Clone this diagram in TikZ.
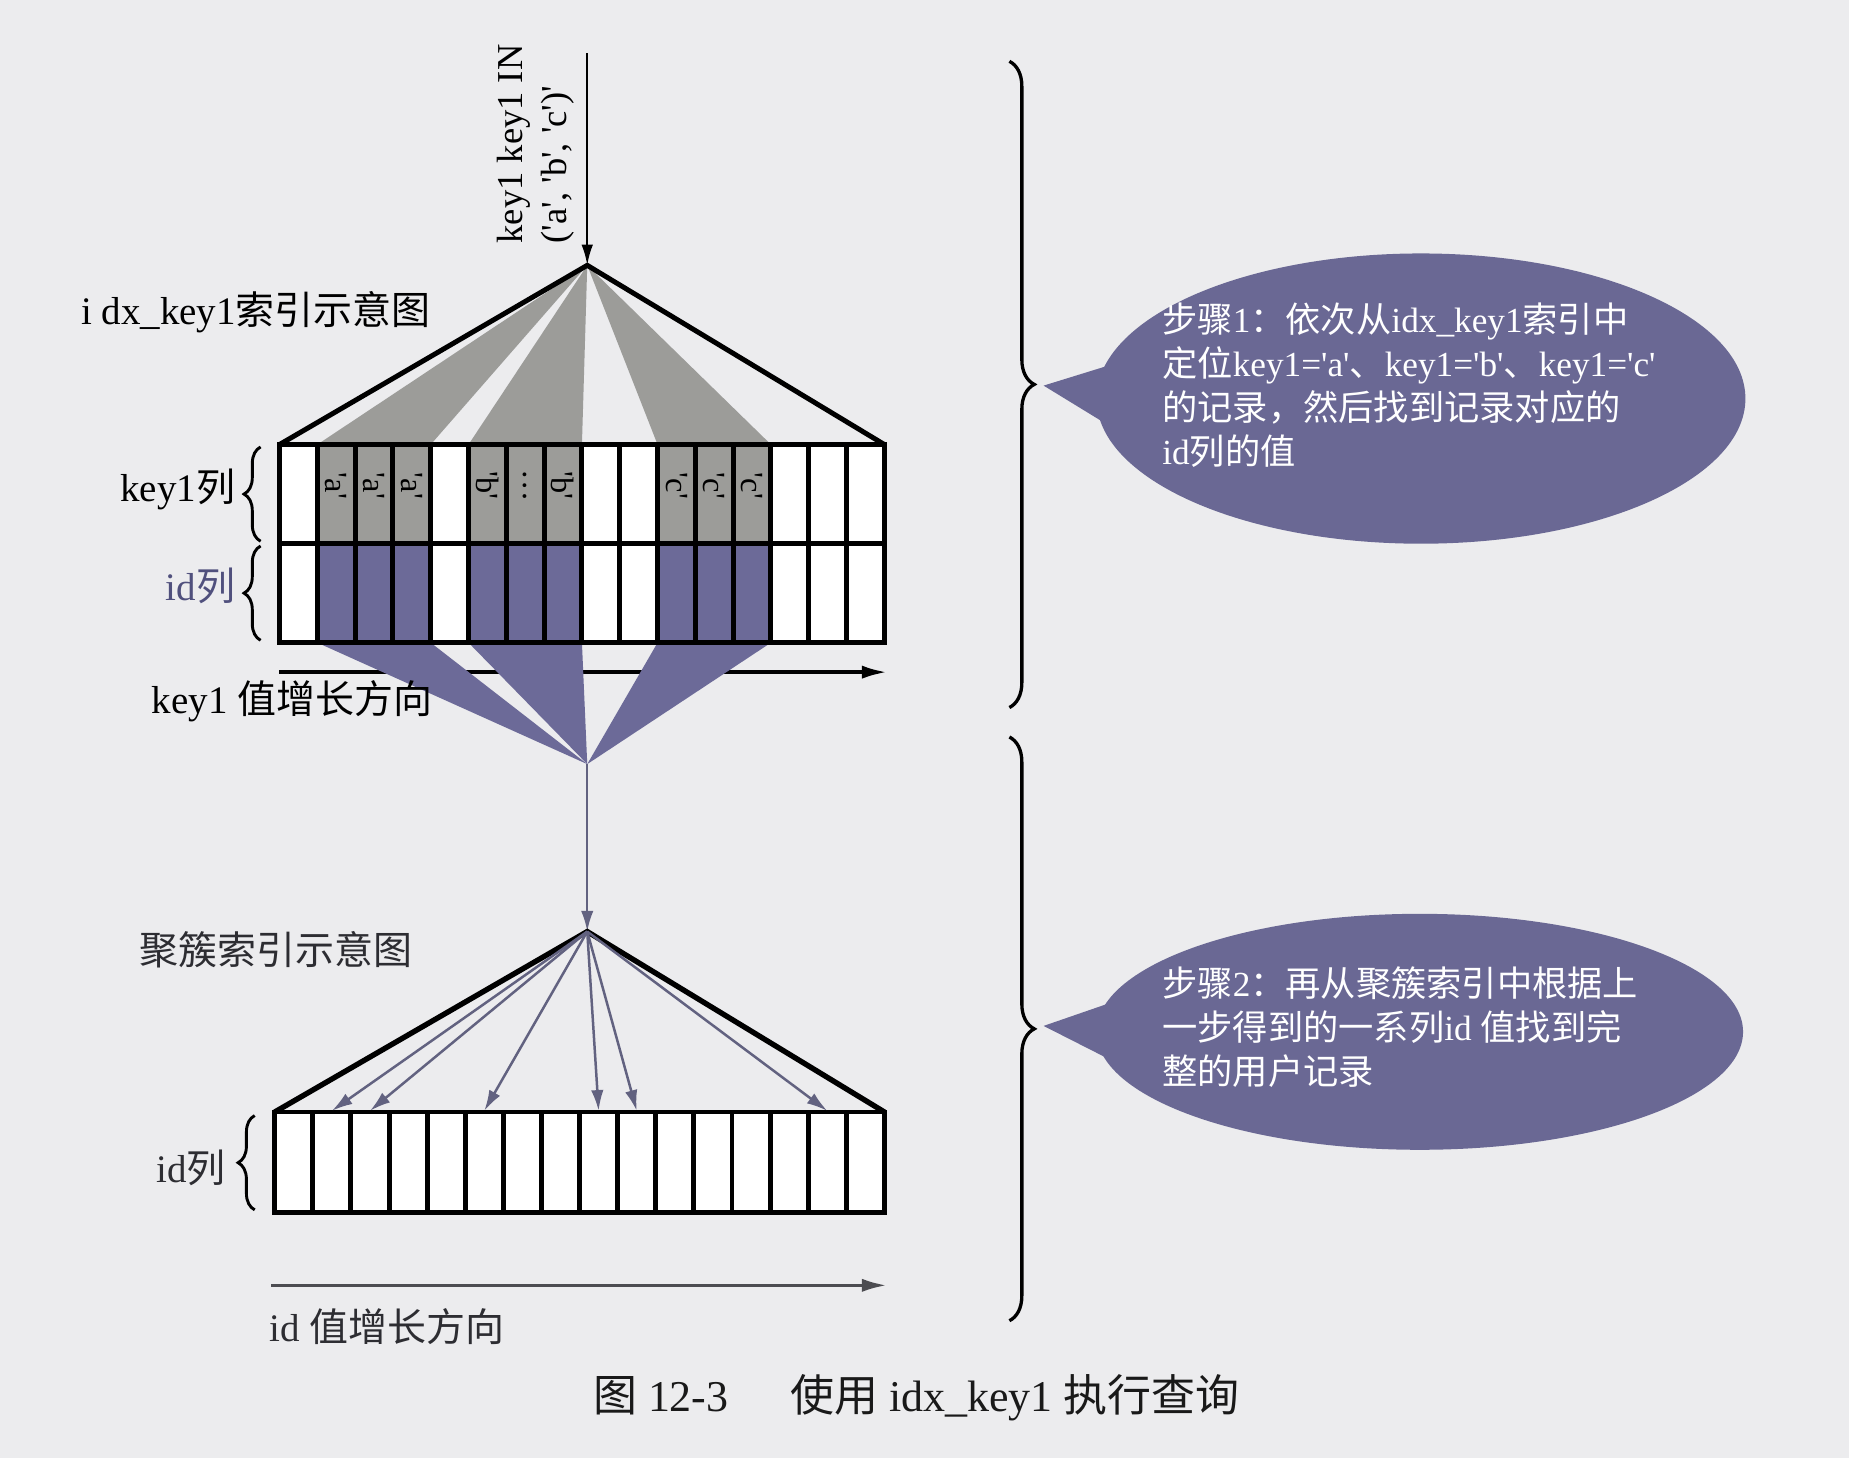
\documentclass[tikz,border=0pt]{standalone}
\usepackage{fontspec}
\setmainfont{Liberation Serif}
\newfontfamily\cjk{Noto Sans CJK SC}
\newfontfamily\qf{Liberation Serif}
\usetikzlibrary{arrows.meta,decorations.pathreplacing,shapes.geometric,calc}
\newcommand\zhs[1]{{\cjk #1}}
\newcommand\sq{{\qf'}}
\definecolor{bgc}{RGB}{236,236,238}
\definecolor{kgray}{RGB}{156,156,153}
\definecolor{kpurp}{RGB}{108,106,152}
\definecolor{ellc}{RGB}{106,104,148}
\definecolor{arrc}{RGB}{98,98,128}
\definecolor{idc}{RGB}{80,80,125}
\definecolor{dark}{RGB}{45,45,50}
\begin{document}
\begin{tikzpicture}[x=0.01cm,y=-0.01cm,
  tbl/.style={line width=1.2pt,black},
  lbl/.style={font=\fontsize{9.4}{11}\selectfont,inner sep=0pt},
  celltxt/.style={font=\fontsize{7.8}{9}\selectfont,rotate=-90,inner sep=0pt},
  brc/.style={decorate,line width=0.7pt},
  ell/.style={ellipse,fill=ellc,inner sep=0pt},
  etxt/.style={font=\fontsize{8.5}{10.6}\selectfont,text=white,align=left,inner sep=0pt},
  garrow/.style={line width=0.6pt,arrc,-{Latex[length=5pt,width=3pt]}},
]
\fill[bgc] (0,0) rectangle (1568,1236);
\useasboundingbox (0,0) rectangle (1568,1236);

% ---------- coordinates
\coordinate (top) at (498,45);
\coordinate (A1) at (498,225);
\coordinate (A2) at (498,648);
\coordinate (A3) at (498,790);

% ---------- upper index (idx_key1)
\fill[kgray] (A1) -- (269.06,377) -- (365.25,377) -- cycle;
\fill[kgray] (A1) -- (397.31,377) -- (493.5,377) -- cycle;
\fill[kgray] (A1) -- (557.63,377) -- (653.81,377) -- cycle;
\draw[tbl] (237,377) -- (A1) -- (750,377);

\coordinate (k1s) at (237,570);
\coordinate (k1e) at (752,570);
\draw[line width=0.8pt,black,-{Latex[length=6pt,width=3.2pt]}] (k1s) -- (k1e);

\fill[kpurp] (A2) -- (269.06,545) -- (365.25,545) -- cycle;
\fill[kpurp] (A2) -- (397.31,545) -- (493.5,545) -- cycle;
\fill[kpurp] (A2) -- (557.63,545) -- (653.81,545) -- cycle;

\fill[white] (237,377) rectangle (750,545);
\foreach \k in {1,2,3,5,6,7,10,11,12}{
  \fill[kgray] ({237+\k*32.0625},377) rectangle ({237+(\k+1)*32.0625},461);
  \fill[kpurp] ({237+\k*32.0625},461) rectangle ({237+(\k+1)*32.0625},545);
}
\draw[tbl] (237,377) rectangle (750,545);
\draw[tbl] (237,461) -- (750,461);
\foreach \k in {1,...,15}{
  \draw[tbl] ({237+\k*32.0625},377) -- ({237+\k*32.0625},545);
}
\foreach \k/\t [count=\i] in {1/\sq a\sq,2/\sq a\sq,3/\sq a\sq,5/\sq b\sq,6/\ldots,7/\sq b\sq,10/\sq c\sq,11/\sq c\sq,12/\sq c\sq}{
  \node[celltxt] (cell\i) at ({237+(\k+0.5)*32.0625},412) {\t};
}

\draw[line width=0.6pt,black,-{Latex[length=5pt,width=2.8pt]}] (top) -- (A1);
\node[rotate=90,anchor=west,align=left,inner sep=0pt,
      font=\fontsize{8.8}{10.6}\selectfont] (qlbl) at (454,207)
      {key1 key1 IN\\(\sq a\sq, \sq b\sq, \sq c\sq)\sq};

\node[lbl,anchor=west] (t1) at (68,265) {i dx\_key1\zhs{索引示意图}};
\node[lbl,anchor=east] (k1l) at (200,415) {key1\zhs{列}};
\node[lbl,anchor=east,text=idc] (idl) at (200,497) {id\zhs{列}};
\node[lbl,anchor=west] (t2) at (128,595) {key1 \zhs{值增长方向}};
\draw[brc,decoration={brace,amplitude=4pt}] (221,459) -- (221,379);
\draw[brc,decoration={brace,amplitude=4pt}] (221,543) -- (221,463);

\draw[garrow] (A2) -- (A3);

% ---------- lower clustered index
\node[lbl,anchor=west,text=dark] (t3) at (118,805) {\zhs{聚簇索引示意图}};
\draw[tbl,line width=1.3pt] (233,943) -- (A3) -- (750,943);
\fill[white] (233,943) rectangle (750,1028);
\draw[tbl] (233,943) rectangle (750,1028);
\foreach \k in {1,...,15}{
  \draw[tbl] ({233+\k*32.3125},943) -- ({233+\k*32.3125},1028);
}
\foreach \k in {1,2,5,8,9,14}{
  \coordinate (c\k) at ({233+(\k+0.5)*32.3125},942);
  \draw[garrow] (A3) -- (c\k);
}
\node[lbl,anchor=east,text=dark] (idl2) at (192,990) {id\zhs{列}};
\draw[brc,decoration={brace,amplitude=4pt}] (216,1026) -- (216,946);

\coordinate (ids) at (230,1090);
\coordinate (ide) at (752,1090);
\draw[line width=0.8pt,dark!85,-{Latex[length=6pt,width=3.2pt]}] (ids) -- (ide);
\node[lbl,anchor=west,text=dark] (t4) at (228,1125) {id \zhs{值增长方向}};

% ---------- right braces
\draw[brc,line width=0.8pt,decoration={brace,amplitude=6pt}] (856,52) -- (856,600);
\draw[brc,line width=0.8pt,decoration={brace,amplitude=6pt}] (856,625) -- (856,1120);

% ---------- callouts
\node[ell,minimum width=5.5cm,minimum height=2.46cm] (e1) at (1205,338) {};
\coordinate (tip1) at (885,327);
\coordinate (j1a) at (940,310);
\coordinate (j1b) at (952,368);
\fill[ellc] (tip1) -- (j1a) -- (e1.center) -- (j1b) -- cycle;
\node[etxt,anchor=west] (e1t) at (985,327)
  {\zhs{步骤}1\zhs{：依次从}idx\_key1\zhs{索引中}\\
   \zhs{定位}key1=\sq a\sq\zhs{、}key1=\sq b\sq\zhs{、}key1=\sq c\sq\\
   \zhs{的记录，然后找到记录对应的}\\
   id\zhs{列的值}};

\node[ell,minimum width=5.48cm,minimum height=2.0cm] (e2) at (1204,875) {};
\coordinate (tip2) at (885,870);
\coordinate (j2a) at (940,851);
\coordinate (j2b) at (954,905);
\fill[ellc] (tip2) -- (j2a) -- (e2.center) -- (j2b) -- cycle;
\node[etxt,anchor=west] (e2t) at (985,871)
  {\zhs{步骤}2\zhs{：再从聚簇索引中根据上}\\
   \zhs{一步得到的一系列}id \zhs{值找到完}\\
   \zhs{整的用户记录}};

% ---------- caption
\node[font=\fontsize{10.6}{12}\selectfont,inner sep=0pt,text=black!90] (cap) at (777,1185)
  {\zhs{图} 12-3\hspace{1.4em}\zhs{使用} idx\_key1 \zhs{执行查询}};
\end{tikzpicture}
\end{document}
